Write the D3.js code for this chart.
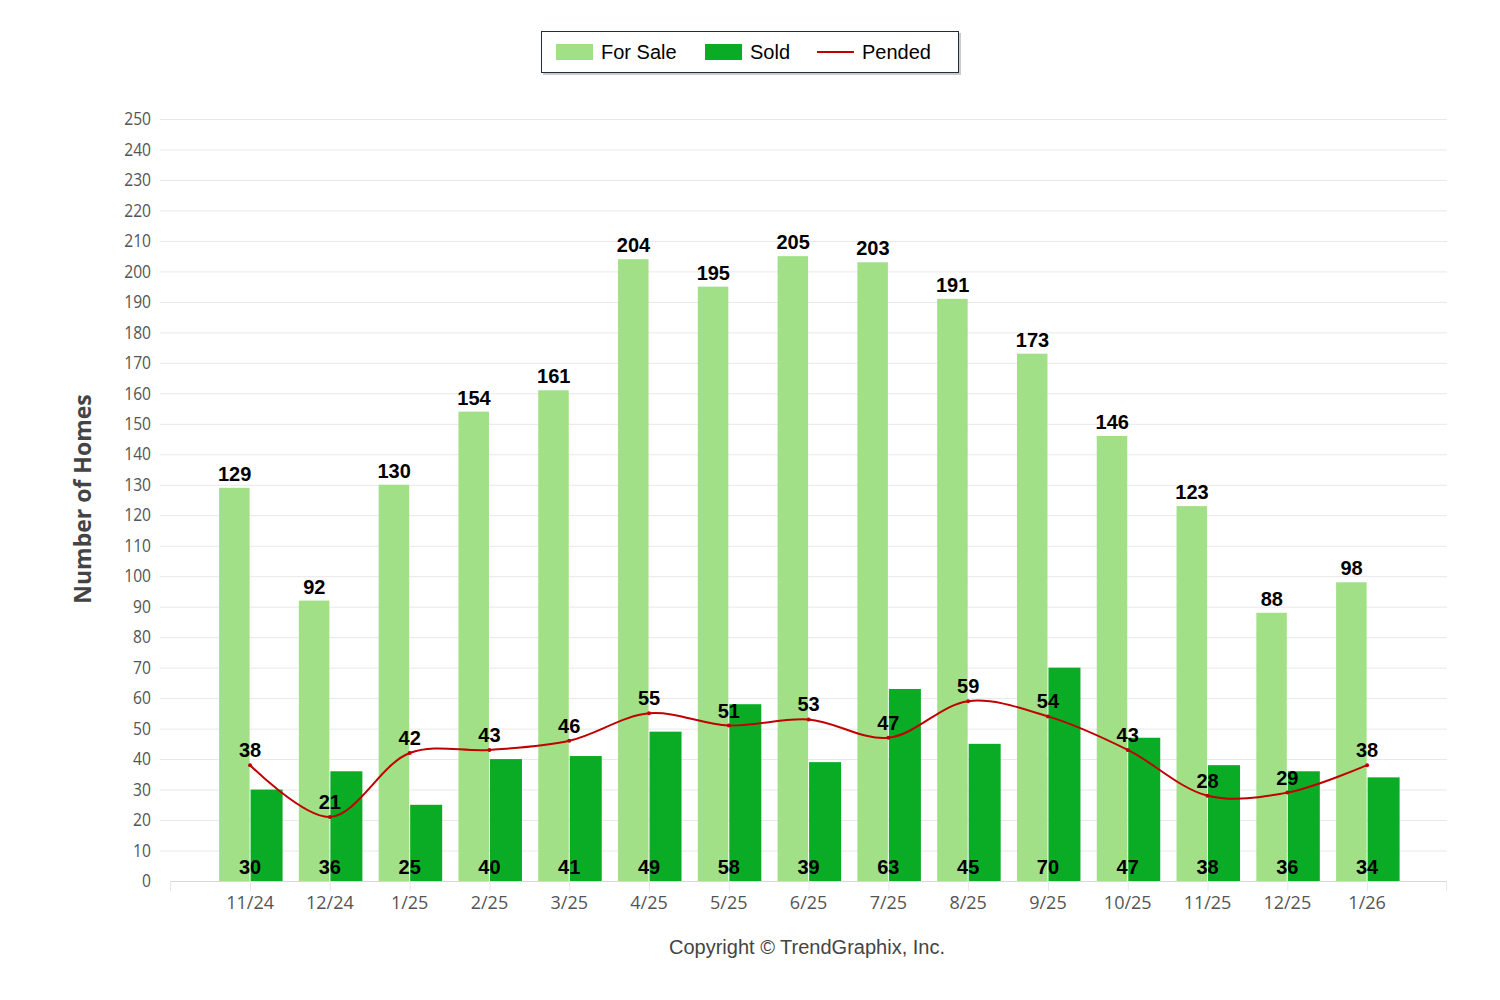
<!DOCTYPE html>
<html><head><meta charset="utf-8">
<script src="https://cdn.jsdelivr.net/npm/d3@7"></script>
<style>body{margin:0;background:#fff}svg{display:block}</style>
</head><body><svg id="c" width="1500" height="1000"></svg>
<script>
const categories = ["11/24","12/24","1/25","2/25","3/25","4/25","5/25","6/25","7/25","8/25","9/25","10/25","11/25","12/25","1/26"];
const forSale = [129,92,130,154,161,204,195,205,203,191,173,146,123,88,98];
const sold = [30,36,25,40,41,49,58,39,63,45,70,47,38,36,34];
const pended = [38,21,42,43,46,55,51,53,47,59,54,43,28,29,38];
const yTicks = d3.range(0,251,10);

(function(){
const svg = d3.select("#c");
const pLeft = 160, pRight = 1447, pTop = 119, pBottom = 881;
const x = d3.scaleBand().domain(categories).range([210.2, 1407]);
const y = d3.scaleLinear().domain([0,250]).range([pBottom, pTop]);
const cx = c => x(c) + x.bandwidth()/2;
const bw = 31;
const tickFont = "'Liberation Sans Narrow','Open Sans',sans-serif";

// gridlines
svg.append("g").selectAll("line").data(yTicks.filter(d=>d>0)).join("line")
  .attr("x1", pLeft).attr("x2", pRight).attr("y1", d=>y(d)+0.5).attr("y2", d=>y(d)+0.5)
  .attr("stroke", "#e8e8e8").attr("stroke-width",1);

// y axis labels
const ya = svg.append("g").attr("transform", `translate(151,0)`)
  .call(d3.axisLeft(y).tickValues(yTicks).tickSize(0).tickPadding(0));
ya.select(".domain").remove();
ya.selectAll("text").attr("font-family",tickFont).attr("font-size",17).attr("fill","#555")
  .attr("transform","scale(0.92,1.05)").attr("dy","0.32em");

// x axis
const xa = svg.append("g").attr("transform", `translate(0,${pBottom})`)
  .call(d3.axisBottom(x).tickSize(0).tickPadding(15));
xa.select(".domain").remove();
xa.selectAll("text").attr("font-family",tickFont).attr("font-size",18).attr("fill","#555");
svg.append("line").attr("x1",170).attr("x2",pRight).attr("y1",pBottom+0.5).attr("y2",pBottom+0.5)
  .attr("stroke","#d8d8d8");
svg.append("g").selectAll("line").data(categories).join("line")
  .attr("x1", d=>cx(d)+0.5).attr("x2", d=>cx(d)+0.5).attr("y1", pBottom).attr("y2", pBottom+10)
  .attr("stroke","#e6e6e6");
svg.append("line").attr("x1",170.5).attr("x2",170.5).attr("y1",pBottom).attr("y2",pBottom+10).attr("stroke","#e6e6e6");
svg.append("line").attr("x1",1446.5).attr("x2",1446.5).attr("y1",pBottom).attr("y2",pBottom+10).attr("stroke","#e6e6e6");

// bars
svg.append("g").selectAll("rect").data(forSale).join("rect")
  .attr("x",(d,i)=>cx(categories[i])-bw).attr("width",bw-0.5)
  .attr("y",d=>y(d)).attr("height",d=>pBottom-y(d)).attr("fill","#a1e087");
svg.append("g").selectAll("rect").data(sold).join("rect")
  .attr("x",(d,i)=>cx(categories[i])+0.5).attr("width",bw+1)
  .attr("y",d=>y(d)).attr("height",d=>pBottom-y(d)).attr("fill","#0bac25");

// pended line
const line = d3.line().x((d,i)=>cx(categories[i])).y(d=>y(d)).curve(d3.curveCatmullRom.alpha(0.5));
svg.append("path").datum(pended).attr("d",line).attr("fill","none").attr("stroke","#c00000").attr("stroke-width",2);
svg.append("g").selectAll("circle").data(pended).join("circle")
  .attr("cx",(d,i)=>cx(categories[i])).attr("cy",d=>y(d)).attr("r",2).attr("fill","#c00000");

const lab = {"font-family":"Arial,'Liberation Sans',sans-serif","font-size":20,"font-weight":"bold","fill":"#000","text-anchor":"middle"};
function applyAttrs(sel){ for(const k in lab) sel.attr(k, lab[k]); return sel; }
applyAttrs(svg.append("g").selectAll("text").data(forSale).join("text")
  .attr("x",(d,i)=>cx(categories[i])-bw/2).attr("y",d=>y(d)-7).text(d=>d));
applyAttrs(svg.append("g").selectAll("text").data(sold).join("text")
  .attr("x",(d,i)=>cx(categories[i])).attr("y",pBottom-7).text(d=>d));
applyAttrs(svg.append("g").selectAll("text").data(pended).join("text")
  .attr("x",(d,i)=>cx(categories[i])).attr("y",d=>y(d)-8).text(d=>d));

// axis title
svg.append("text").attr("transform","translate(91,499) rotate(-90)").attr("text-anchor","middle")
  .attr("font-family","'Open Sans',sans-serif").attr("font-size",23).attr("font-weight","bold").attr("fill","#444")
  .text("Number of Homes");

// copyright
svg.append("text").attr("x",807).attr("y",954).attr("text-anchor","middle")
  .attr("font-family","Arial,'Liberation Sans',sans-serif").attr("font-size",20).attr("fill","#444")
  .text("Copyright © TrendGraphix, Inc.");

// legend
const lg = svg.append("g");
const ff = "Arial,'Liberation Sans',sans-serif";
lg.append("rect").attr("x",543).attr("y",33).attr("width",418).attr("height",42).attr("fill","#999").attr("opacity",0.5);
lg.append("rect").attr("x",541.5).attr("y",31.5).attr("width",417).attr("height",41).attr("fill","#fff").attr("stroke","#1f2d3d").attr("stroke-width",1);
lg.append("rect").attr("x",556).attr("y",44).attr("width",37).attr("height",16).attr("fill","#a1e087");
lg.append("text").attr("x",601).attr("y",59).attr("font-family",ff).attr("font-size",20).text("For Sale");
lg.append("rect").attr("x",705).attr("y",44).attr("width",37).attr("height",16).attr("fill","#0bac25");
lg.append("text").attr("x",750).attr("y",59).attr("font-family",ff).attr("font-size",20).text("Sold");
lg.append("line").attr("x1",817).attr("x2",854).attr("y1",52).attr("y2",52).attr("stroke","#c00000").attr("stroke-width",2);
lg.append("text").attr("x",862).attr("y",59).attr("font-family",ff).attr("font-size",20).text("Pended");
})();
</script></body></html>
